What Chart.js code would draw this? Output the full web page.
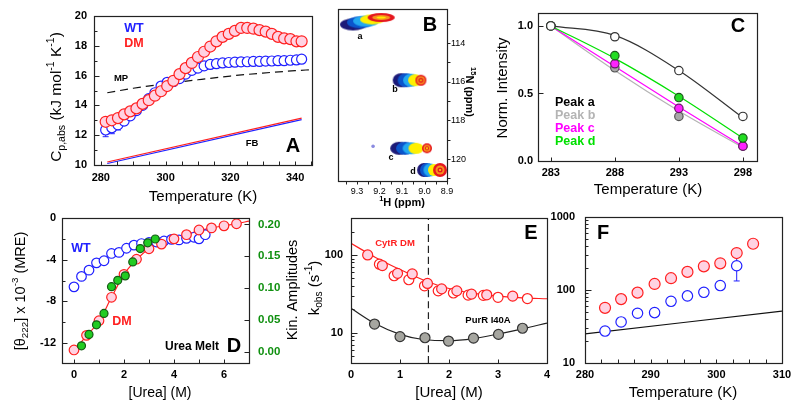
<!DOCTYPE html>
<html lang="en">
<head>
<meta charset="UTF-8">
<title>CytR / PurR panels</title>
<script src="https://cdn.jsdelivr.net/npm/chart.js"></script>
<style>
  html, body { margin: 0; background: #fff; }
  #wrap { position: relative; width: 800px; height: 411px; }
  #wrap canvas { position: absolute; left: 0; top: 0; }
</style>
</head>
<body>
<div id="wrap">
  <canvas id="chA" width="800" height="411"></canvas>
  <canvas id="chB" width="800" height="411"></canvas>
  <canvas id="chC" width="800" height="411"></canvas>
  <canvas id="chD" width="800" height="411"></canvas>
  <canvas id="chE" width="800" height="411"></canvas>
  <canvas id="chF" width="800" height="411"></canvas>
</div>
<script>
// ---------- A: absolute heat capacity ----------
const tempA = [281.5, 283.4, 285.3, 287.2, 289.1, 291.0, 292.9, 294.8, 296.7, 298.6, 300.5,
  302.4, 304.3, 306.2, 308.1, 310.0, 311.9, 313.8, 315.7, 317.6, 319.5, 321.4, 323.3,
  325.2, 327.1, 329.0, 330.9, 332.8, 334.7, 336.6, 338.5, 340.4, 342.0];
const cpDM = [12.9, 13.0, 13.15, 13.4, 13.6, 13.8, 14.1, 14.35, 14.65, 14.95, 15.3,
  15.65, 16.1, 16.5, 16.85, 17.25, 17.6, 17.95, 18.3, 18.6, 18.8, 19.0, 19.2,
  19.2, 19.15, 19.05, 18.95, 18.8, 18.6, 18.5, 18.45, 18.3, 18.3];
const cpWT = [12.35, 12.5, 12.7, 12.95, 13.3, 13.65, 14.0, 14.45, 14.85, 15.3, 15.55,
  15.6, 15.8, 16.1, 16.35, 16.5, 16.65, 16.75, 16.8, 16.85, 16.88, 16.9, 16.92,
  16.93, 16.95, 16.95, 16.97, 16.98, 17.0, 17.0, 17.03, 17.05, 17.1];
const cpWTerr = [0.45, 0.4, 0.35, 0.3, 0.2, 0.15, 0.1, 0.1, 0.15, 0.2, 0.25,
  0.3, 0.2, 0.1, 0, 0, 0, 0, 0, 0, 0, 0, 0, 0, 0, 0, 0, 0, 0, 0, 0, 0, 0];
const mpT = [282, 290, 300, 310, 320, 330, 340, 345];
const mpCp = [14.85, 15.15, 15.45, 15.72, 15.97, 16.17, 16.33, 16.4];
const fbT = [282, 342];
const fbDM = [10.2, 13.15];
const fbWT = [10.1, 13.05];

// ---------- B: HSQC peaks (1H ppm, 15N ppm) per temperature layer ----------
const peakNames = ['a', 'b', 'c', 'd'];
const hsqcNavy   = [[9.318, 113.04], [9.104, 115.92], [9.113, 119.44], [9.002, 120.56]];
const hsqcBlue   = [[9.287, 112.93], [9.082, 115.92], [9.087, 119.44], [8.989, 120.56]];
const hsqcCyan   = [[9.260, 112.86], [9.060, 115.92], [9.060, 119.44], [8.976, 120.56]];
const hsqcYellow = [[9.233, 112.78], [9.042, 115.92], [9.038, 119.44], [8.958, 120.56]];
const hsqcRed    = [[9.193, 112.68], [9.016, 115.92], [8.989, 119.44], [8.931, 120.56]];
const hsqcStray  = [[9.229, 119.33]];

// ---------- C: normalised peak intensity ----------
const tempC = [283, 288, 293, 298];
const intA = [1.0, 0.92, 0.67, 0.33];
const intB = [1.0, 0.69, 0.33, 0.11];
const intC = [1.0, 0.72, 0.39, 0.11];
const intD = [1.0, 0.78, 0.47, 0.17];
const fitA = [1.0, 0.93, 0.67, 0.32];
const fitB = [1.0, 0.67, 0.37, 0.10];
const fitC = [1.0, 0.70, 0.40, 0.11];
const fitD = [1.0, 0.76, 0.48, 0.17];

// ---------- D: urea melt ----------
const ureaWT = [0, 0.3, 0.6, 0.9, 1.2, 1.5, 1.8, 2.1, 2.4, 2.7, 3.0, 3.3, 3.6, 3.9, 4.2, 4.5, 4.8, 5.0, 5.25];
const mreWT = [-6.6, -5.6, -5.0, -4.3, -4.1, -3.4, -3.3, -2.9, -2.6, -2.45, -2.35, -2.3, -2.2, -2.05, -2.1, -1.95, -1.85, -2.0, -1.6];
const ureaDM = [0, 0.5, 1.0, 1.5, 2.0, 2.5, 3.0, 3.5, 4.0, 4.5, 5.0, 5.5, 6.0, 6.5];
const mreDM = [-12.65, -11.25, -9.85, -7.6, -5.4, -3.95, -2.95, -2.5, -2.0, -1.6, -1.15, -0.95, -0.75, -0.55];
const ureaDMfit = [0, 0.5, 1.0, 1.5, 2.0, 2.5, 3.0, 3.5, 4.0, 4.5, 5.0, 5.5, 6.0, 6.5, 7.0];
const mreDMfit = [-12.7, -11.3, -9.9, -7.6, -5.4, -4.0, -2.95, -2.45, -2.0, -1.6, -1.2, -0.95, -0.75, -0.55, -0.3];
const ureaKin = [0.3, 0.6, 0.9, 1.2, 1.5, 1.75, 2.05, 2.35, 2.65, 2.95, 3.25];
const kinAmp = [0.009, 0.027, 0.042, 0.060, 0.102, 0.112, 0.119, 0.141, 0.162, 0.171, 0.177];

// ---------- E: chevron ----------
const ureaCyt = [0.34, 0.58, 0.64, 0.88, 0.95, 1.18, 1.25, 1.5, 1.56, 1.78, 1.85, 2.09, 2.16, 2.39, 2.46, 2.70, 2.77, 3.0, 3.3, 3.6];
const kobsCyt = [100, 76, 73, 54, 58, 48, 57, 40, 43, 34.5, 36.6, 32.4, 34.5, 30.4, 31.3, 30.2, 30.7, 28.5, 29.5, 27.5];
const ureaFit = [0, 0.5, 1.0, 1.5, 2.0, 2.5, 3.0, 3.5, 4.0];
const kobsCytFit = [141, 93, 65, 47, 37, 32, 29.5, 28, 27.3];
const ureaPur = [0.48, 1.0, 1.51, 1.99, 2.5, 3.01, 3.5];
const kobsPur = [12.9, 8.9, 8.6, 7.8, 8.5, 9.5, 11.4];
const kobsPurFit = [20.6, 13.0, 9.5, 8.1, 7.9, 8.4, 9.6, 11.2, 13.3];
const ureaMid = 1.58;

// ---------- F: rates vs temperature ----------
const tempFdm = [283.05, 285.5, 288.0, 290.6, 293.1, 295.6, 298.1, 300.6, 303.1, 305.6];
const rateDM = [57, 75, 92, 121, 145, 177, 211, 232, 321, 430];
const rateDMerr = [0, 0, 0, 0, 0, 0, 0, 0, 0, 60];
const tempFwt = [283.05, 285.5, 288.0, 290.6, 293.1, 295.6, 298.1, 300.6, 303.1];
const rateWT = [27.4, 36.5, 48, 49, 70, 83, 93, 115, 215];
const rateWTerr = [0, 0, 0, 0, 0, 0, 0, 0, 82];
const tempFline = [280, 310];
const rateLine = [25, 51.5];

// ================= drawing =================
const FONT = "'Liberation Sans', Arial, Helvetica, sans-serif";
Chart.defaults.font.family = FONT;
Chart.defaults.color = '#000';

const RED = '#ff2020', PINK = '#ffd2e2', BLUE = '#2020ff';
const DECO = {};

function xy(xs, ys) { return xs.map((x, i) => ({ x: x, y: ys[i] })); }
function pairs(arr) { return arr.map(p => ({ x: p[0], y: p[1] })); }

function drawRich(ctx, t) {
  const size = t.size || 12, w = t.bold ? 'bold' : 'normal';
  const parts = (Array.isArray(t.text) ? t.text : [t.text])
    .map(p => typeof p === 'string' ? { s: p, k: '' } : { s: p[0], k: p[1] });
  const fontFor = k => `${w} ${k ? size * 0.68 : size}px ${FONT}`;
  let total = 0;
  parts.forEach(p => { ctx.font = fontFor(p.k); p.w = ctx.measureText(p.s).width; total += p.w; });
  ctx.save();
  ctx.translate(t.x, t.y);
  if (t.rot) ctx.rotate(t.rot * Math.PI / 180);
  ctx.fillStyle = t.color || '#000';
  ctx.textBaseline = 'middle';
  ctx.textAlign = 'left';
  let x = t.align === 'left' ? 0 : (t.align === 'right' ? -total : -total / 2);
  parts.forEach(p => {
    ctx.font = fontFor(p.k);
    const dy = p.k === 'sub' ? size * 0.3 : (p.k === 'sup' ? -size * 0.4 : 0);
    ctx.fillText(p.s, x, dy);
    x += p.w;
  });
  ctx.restore();
}

const decoPlugin = {
  id: 'deco',
  beforeDatasetsDraw(chart) {
    const ctx = chart.ctx;
    chart.data.datasets.forEach((ds, i) => {
      if (!ds.errorBars) return;
      const meta = chart.getDatasetMeta(i);
      const ys = chart.scales[meta.yAxisID];
      ctx.save();
      ctx.strokeStyle = ds.borderColor;
      ctx.lineWidth = 1;
      meta.data.forEach((pt, j) => {
        const e = ds.errorBars[j];
        if (!e) return;
        const v = ds.data[j].y;
        const y1 = ys.getPixelForValue(v - e), y2 = ys.getPixelForValue(v + e);
        ctx.beginPath();
        ctx.moveTo(pt.x, y1); ctx.lineTo(pt.x, y2);
        ctx.moveTo(pt.x - 3, y1); ctx.lineTo(pt.x + 3, y1);
        ctx.moveTo(pt.x - 3, y2); ctx.lineTo(pt.x + 3, y2);
        ctx.stroke();
      });
      ctx.restore();
    });
  },
  afterDraw(chart) {
    const o = DECO[chart.canvas.id];
    if (!o) return;
    const ctx = chart.ctx, a = chart.chartArea;
    ctx.save();
    ctx.strokeStyle = '#222';
    ctx.lineWidth = 1.2;
    const L = Math.round(a.left) + 0.5, R = Math.round(a.right) + 0.5;
    const T = Math.round(a.top) + 0.5, B = Math.round(a.bottom) + 0.5;
    ctx.strokeRect(L, T, R - L, B - T);
    ctx.lineWidth = 1;
    (o.ticks || []).forEach(t => {
      const s = chart.scales[t.s];
      const d = t.out ? -1 : 1;
      t.vals.forEach(v => {
        const p = Math.round(s.getPixelForValue(v)) + 0.5;
        ctx.beginPath();
        if (t.side === 'left') { ctx.moveTo(L, p); ctx.lineTo(L + d * t.len, p); }
        if (t.side === 'right') { ctx.moveTo(R, p); ctx.lineTo(R - d * t.len, p); }
        if (t.side === 'bottom') { ctx.moveTo(p, B); ctx.lineTo(p, B - d * t.len); }
        ctx.stroke();
      });
    });
    ctx.restore();
    (o.texts || []).forEach(t => drawRich(ctx, t));
  }
};

function axis(o) {
  return {
    type: o.log ? 'logarithmic' : 'linear',
    position: o.pos, min: o.min, max: o.max, reverse: !!o.reverse,
    grid: { display: false, drawTicks: false },
    border: { display: false },
    afterBuildTicks: s => { s.ticks = o.labels.map(v => ({ value: v })); },
    afterFit: s => {
      if (o.pos === 'left' || o.pos === 'right') s.width = o.size; else s.height = o.size;
    },
    ticks: {
      autoSkip: false, maxRotation: 0, padding: o.pad, color: o.color || '#000',
      font: { size: o.fs || 11, weight: o.normal ? 'normal' : 'bold' },
      callback: o.fmt || (v => String(v))
    }
  };
}

function panel(id, box, scales, datasets, deco) {
  DECO[id] = deco;
  const yW = box.yW || 0, y2W = box.y2W || 0, xH = box.xH || 0;
  return new Chart(document.getElementById(id), {
    type: 'scatter',
    data: { datasets: datasets },
    options: {
      responsive: false, animation: false, events: [],
      layout: { padding: { left: box.l - yW, top: box.t, right: 800 - box.r - y2W, bottom: 411 - box.b - xH } },
      plugins: { legend: { display: false }, tooltip: { enabled: false } },
      scales: scales
    },
    plugins: [decoPlugin]
  });
}

function pts(data, r, fill, edge, extra) {
  return Object.assign({ data: data, pointRadius: r, pointBackgroundColor: fill,
    pointBorderColor: edge, borderColor: edge, pointBorderWidth: 1.2, showLine: false }, extra || {});
}
function line(data, color, extra) {
  return Object.assign({ data: data, showLine: true, pointRadius: 0, borderColor: color,
    borderWidth: 1.2, tension: 0.4, cubicInterpolationMode: 'monotone' }, extra || {});
}

// ---- A ----
panel('chA', { l: 94, t: 16, r: 312, b: 165, yW: 60, xH: 40 }, {
  x: axis({ pos: 'bottom', min: 277.9, max: 345.2, labels: [280, 300, 320, 340], size: 40, pad: 6 }),
  y: axis({ pos: 'left', min: 10, max: 20, labels: [10, 12, 14, 16, 18, 20], size: 60, pad: 7 })
}, [
  pts(xy(tempA, cpDM), 5.5, PINK, RED),
  pts(xy(tempA, cpWT), 5, '#ffffff', BLUE, { errorBars: cpWTerr }),
  line(xy(mpT, mpCp), '#111', { borderDash: [8, 5] }),
  line(xy(fbT, fbDM), RED, { tension: 0 }),
  line(xy(fbT, fbWT), BLUE, { tension: 0 })
], {
  ticks: [
    { s: 'x', side: 'bottom', vals: [280, 285, 290, 295, 300, 305, 310, 315, 320, 325, 330, 335, 340, 345], len: 4 },
    { s: 'y', side: 'left', vals: [10, 12, 14, 16, 18, 20], len: 5 },
    { s: 'y', side: 'left', vals: [11, 13, 15, 17, 19], len: 3 }
  ],
  texts: [
    { text: ['C', ['p,abs', 'sub'], ' (kJ mol', ['-1', 'sup'], ' K', ['-1', 'sup'], ')'], x: 57, y: 97, rot: -90, size: 15.5 },
    { text: 'Temperature (K)', x: 203, y: 197, size: 15 },
    { text: 'WT', x: 134, y: 29, size: 12.5, bold: true, color: BLUE },
    { text: 'DM', x: 134, y: 44, size: 12.5, bold: true, color: RED },
    { text: 'MP', x: 121, y: 78, size: 9.5, bold: true },
    { text: 'FB', x: 252, y: 143, size: 9.5, bold: true },
    { text: 'A', x: 293, y: 146, size: 20, bold: true }
  ]
});

// ---- B ----
function ellipseImg(w, h, col, rings) {
  const c = document.createElement('canvas');
  c.width = w + 2; c.height = h + 2;
  const g = c.getContext('2d');
  const paint = (ww, hh, cc) => {
    g.fillStyle = cc; g.beginPath();
    g.ellipse(c.width / 2, c.height / 2, ww / 2, hh / 2, 0, 0, Math.PI * 2); g.fill();
  };
  paint(w, h, col);
  (rings || []).forEach(r => paint(r[0], r[1], r[2]));
  return c;
}
const NAVY = '#1c1a78', MID = '#0b55cc', CYAN = '#22a8f0', YEL = '#fff000', NRED = '#e5161e', ORG = '#f7931e';
const szNavy = [[26, 12], [17, 14], [18, 13], [14, 14]];
const szBlue = [[26, 12], [17, 14], [18, 13], [14, 14]];
const szCyan = [[26, 11], [16, 13], [17, 12], [13, 13]];
const szYel = [[24, 10], [14, 12], [15, 11], [12, 12]];
const redImgs = [
  ellipseImg(27, 9, NRED, [[18, 5, ORG], [9, 2, YEL]]),
  ellipseImg(11, 11, NRED, [[8, 8, ORG], [5, 5, NRED], [2, 2, YEL]]),
  ellipseImg(10, 10, NRED, [[7, 7, ORG], [4, 4, NRED], [2, 2, YEL]]),
  ellipseImg(14, 14, NRED, [[9, 9, ORG], [5, 5, NRED], [2, 2, YEL]])
];
function layer(data, sizes, col, extraRings) {
  return {
    data: pairs(data), showLine: false, pointRadius: 8,
    pointStyle: sizes.map(s => ellipseImg(s[0], s[1], col, extraRings))
  };
}
panel('chB', { l: 338, t: 9, r: 447, b: 181, y2W: 30, xH: 20 }, {
  x: axis({ pos: 'bottom', min: 8.9, max: 9.385, reverse: true, labels: [9.3, 9.2, 9.1, 9.0, 8.9], size: 20, pad: 5, fs: 9, normal: true, fmt: v => v.toFixed(1) }),
  y: axis({ pos: 'right', min: 112.26, max: 121.13, reverse: true, labels: [114, 116, 118, 120], size: 30, pad: 4, fs: 9, normal: true })
}, [
  { data: pairs(hsqcRed), showLine: false, pointRadius: 8, pointStyle: redImgs },
  layer(hsqcYellow, szYel, YEL),
  layer(hsqcCyan, szCyan, CYAN),
  layer(hsqcBlue, szBlue, MID),
  layer(hsqcNavy, szNavy, NAVY),
  pts(pairs(hsqcStray), 1.2, '#8a8ae0', '#8a8ae0')
], {
  ticks: [
    { s: 'x', side: 'bottom', vals: [9.35, 9.3, 9.25, 9.2, 9.15, 9.1, 9.05, 9.0, 8.95, 8.9], len: 3, out: true },
    { s: 'y', side: 'right', vals: [113, 114, 115, 116, 117, 118, 119, 120, 121], len: 3, out: true }
  ],
  texts: [
    { text: [['1', 'sup'], 'H (ppm)'], x: 402, y: 203, size: 11, bold: true },
    { text: [['15', 'sup'], 'N (ppm)'], x: 469, y: 92, size: 11, bold: true, rot: 90 },
    { text: peakNames[0], x: 360, y: 37, size: 9, bold: true },
    { text: peakNames[1], x: 395, y: 90, size: 9, bold: true },
    { text: peakNames[2], x: 391, y: 158, size: 9, bold: true },
    { text: peakNames[3], x: 413, y: 172, size: 9, bold: true },
    { text: 'B', x: 430, y: 25, size: 20, bold: true }
  ]
});

// ---- C ----
const GRAYL = '#b4b4b4', MAG = '#ff00ff', GRN = '#00e000';
panel('chC', { l: 538, t: 13, r: 757, b: 161, yW: 30, xH: 20 }, {
  x: axis({ pos: 'bottom', min: 282, max: 299.1, labels: [283, 288, 293, 298], size: 20, pad: 5 }),
  y: axis({ pos: 'left', min: 0, max: 1.096, labels: [0, 0.5, 1.0], size: 30, pad: 5, fmt: v => v.toFixed(1) })
}, [
  pts(xy(tempC, intA), 4.2, '#ffffff', '#333'),
  pts(xy(tempC, intD), 4.2, '#22dd22', '#1a5a1a'),
  pts(xy(tempC, intC), 4.2, '#ff22ff', '#6a1a6a'),
  pts(xy(tempC, intB), 4.2, '#a8a8a8', '#555'),
  line(xy(tempC, fitA), '#333'),
  line(xy(tempC, fitD), GRN),
  line(xy(tempC, fitC), MAG),
  line(xy(tempC, fitB), GRAYL)
], {
  ticks: [
    { s: 'x', side: 'bottom', vals: [283, 288, 293, 298], len: 4 },
    { s: 'y', side: 'left', vals: [0, 0.5, 1.0], len: 5 }
  ],
  texts: [
    { text: 'Norm. Intensity', x: 503, y: 88, rot: -90, size: 15 },
    { text: 'Temperature (K)', x: 648, y: 190, size: 15 },
    { text: 'Peak a', x: 555, y: 103, size: 12.5, bold: true, align: 'left', color: '#000' },
    { text: 'Peak b', x: 555, y: 116, size: 12.5, bold: true, align: 'left', color: GRAYL },
    { text: 'Peak c', x: 555, y: 129, size: 12.5, bold: true, align: 'left', color: MAG },
    { text: 'Peak d', x: 555, y: 142, size: 12.5, bold: true, align: 'left', color: GRN },
    { text: 'C', x: 738, y: 26, size: 20, bold: true }
  ]
});

// ---- D ----
const DGREEN = '#109010';
panel('chD', { l: 62, t: 218, r: 249, b: 363, yW: 30, y2W: 40, xH: 20 }, {
  x: axis({ pos: 'bottom', min: -0.48, max: 7, labels: [0, 2, 4, 6], size: 20, pad: 5 }),
  y: axis({ pos: 'left', min: -13.9, max: 0, labels: [0, -4, -8, -12], size: 30, pad: 6 }),
  y2: axis({ pos: 'right', min: -0.018, max: 0.21, labels: [0, 0.05, 0.1, 0.15, 0.2], size: 40, pad: 9, color: DGREEN, fs: 11.5, fmt: v => v.toFixed(2) })
}, [
  pts(xy(ureaKin, kinAmp), 4, '#22cc22', '#145a14', { yAxisID: 'y2' }),
  pts(xy(ureaDM, mreDM), 4.8, PINK, RED),
  pts(xy(ureaWT, mreWT), 4.8, '#ffffff', BLUE),
  line(xy(ureaDMfit, mreDMfit), RED, { tension: 0.3 })
], {
  ticks: [
    { s: 'x', side: 'bottom', vals: [0, 1, 2, 3, 4, 5, 6, 7], len: 4 },
    { s: 'y', side: 'left', vals: [0, -4, -8, -12], len: 5 },
    { s: 'y', side: 'left', vals: [-2, -6, -10], len: 3 },
    { s: 'y2', side: 'right', vals: [0, 0.05, 0.1, 0.15, 0.2], len: 5 }
  ],
  texts: [
    { text: ['[θ', ['222', 'sub'], '] x 10', ['-3', 'sup'], ' (MRE)'], x: 21, y: 291, rot: -90, size: 14.5 },
    { text: 'Kin. Amplitudes', x: 293, y: 290, rot: -90, size: 14.5 },
    { text: '[Urea] (M)', x: 160, y: 393, size: 14 },
    { text: 'WT', x: 81, y: 249, size: 12.5, bold: true, color: BLUE },
    { text: 'DM', x: 122, y: 322, size: 12.5, bold: true, color: RED },
    { text: 'Urea Melt', x: 192, y: 347, size: 12, bold: true },
    { text: 'D', x: 234, y: 346, size: 20, bold: true }
  ]
});

// ---- E ----
const cytFill = kobsCyt.map((v, i) => (i === 0 || i % 2 === 0) ? PINK : '#ffffff');
panel('chE', { l: 351, t: 218, r: 547, b: 363, yW: 30, xH: 20 }, {
  x: axis({ pos: 'bottom', min: 0, max: 4, labels: [0, 1, 2, 3, 4], size: 20, pad: 5 }),
  y: axis({ pos: 'left', log: true, min: 4.07, max: 299, labels: [10, 100], size: 30, pad: 8 })
}, [
  pts(xy(ureaCyt, kobsCyt), 5, cytFill, RED),
  pts(xy(ureaPur, kobsPur), 5, '#a6a6a0', '#333'),
  line(xy(ureaFit, kobsCytFit), RED),
  line(xy(ureaFit, kobsPurFit), '#222'),
  line([{ x: ureaMid, y: 4.07 }, { x: ureaMid, y: 299 }], '#222', { borderDash: [7, 4], tension: 0 })
], {
  ticks: [
    { s: 'x', side: 'bottom', vals: [0, 1, 2, 3, 4], len: 4 },
    { s: 'y', side: 'left', vals: [10, 100], len: 6 },
    { s: 'y', side: 'left', vals: [5, 6, 7, 8, 9, 20, 30, 40, 50, 60, 70, 80, 90, 200], len: 3 }
  ],
  texts: [
    { text: ['k', ['obs', 'sub'], ' (s', ['-1', 'sup'], ')'], x: 315, y: 288, rot: -90, size: 15 },
    { text: '[Urea] (M)', x: 449, y: 393, size: 15 },
    { text: 'CytR DM', x: 395, y: 243, size: 9.5, bold: true, color: RED },
    { text: 'PurR I40A', x: 488, y: 320, size: 9.5, bold: true },
    { text: 'E', x: 531, y: 233, size: 20, bold: true }
  ]
});

// ---- F ----
panel('chF', { l: 585, t: 217, r: 782, b: 363, yW: 45, xH: 20 }, {
  x: axis({ pos: 'bottom', min: 280, max: 310, labels: [280, 290, 300, 310], size: 20, pad: 5 }),
  y: axis({ pos: 'left', log: true, min: 10, max: 1000, labels: [10, 100, 1000], size: 45, pad: 10 })
}, [
  pts(xy(tempFdm, rateDM), 5.5, PINK, RED, { errorBars: rateDMerr }),
  pts(xy(tempFwt, rateWT), 5.2, '#ffffff', BLUE, { errorBars: rateWTerr }),
  line(xy(tempFline, rateLine), '#111', { tension: 0 })
], {
  ticks: [
    { s: 'x', side: 'bottom', vals: [282.5, 285, 287.5, 290, 292.5, 295, 297.5, 300, 302.5, 305, 307.5], len: 4 },
    { s: 'y', side: 'left', vals: [100], len: 6 },
    { s: 'y', side: 'left', vals: [20, 30, 40, 50, 60, 70, 80, 90, 200, 300, 400, 500, 600, 700, 800, 900], len: 3 }
  ],
  texts: [
    { text: 'Temperature (K)', x: 683, y: 393, size: 15 },
    { text: 'F', x: 603, y: 233, size: 20, bold: true }
  ]
});
</script>
</body>
</html>
